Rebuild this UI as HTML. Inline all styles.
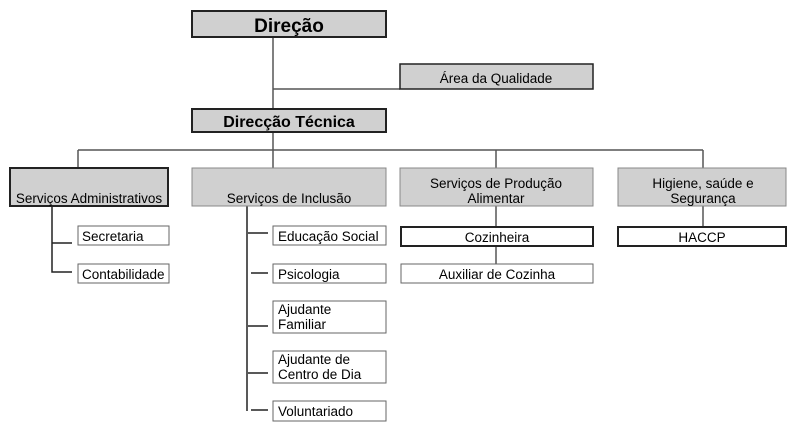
<!DOCTYPE html>
<html><head><meta charset="utf-8"><style>body{margin:0;background:#fff}svg{display:block}</style></head><body>
<svg width="800" height="428" viewBox="0 0 800 428" font-family="Liberation Sans, Arial, sans-serif">
<g stroke="#555" stroke-width="1.5" fill="none">
<line x1="273" y1="37" x2="273" y2="109"/>
<line x1="273" y1="89" x2="400" y2="89"/>
<line x1="273" y1="132" x2="273" y2="168"/>
<line x1="78" y1="150" x2="703" y2="150"/>
<line x1="78" y1="150" x2="78" y2="168"/>
<line x1="496" y1="150" x2="496" y2="168"/>
<line x1="703" y1="150" x2="703" y2="168"/>
<line x1="496" y1="206" x2="496" y2="264"/>
<line x1="703" y1="206" x2="703" y2="227"/>
</g>
<g stroke="#222" stroke-width="1.5" fill="none">
<polyline points="52,206 52,272 72,272"/>
<line x1="52" y1="243" x2="72" y2="243"/>
<line x1="247" y1="206" x2="247" y2="411"/>
<line x1="248" y1="233" x2="268" y2="233"/>
<line x1="251" y1="273" x2="268" y2="273"/>
<line x1="248" y1="326" x2="268" y2="326"/>
<line x1="248" y1="373" x2="268" y2="373"/>
<line x1="251" y1="410" x2="268" y2="410"/>
</g>
<g fill="#d0d0d0">
<rect x="192" y="11" width="194" height="26" stroke="#222" stroke-width="2"/>
<rect x="400" y="64" width="193" height="25" stroke="#222" stroke-width="1.5"/>
<rect x="192" y="109" width="194" height="23" stroke="#222" stroke-width="2"/>
<rect x="10" y="168" width="158" height="38" stroke="#222" stroke-width="2"/>
<rect x="192" y="168" width="194" height="38" stroke="#888" stroke-width="1"/>
<rect x="400" y="168" width="193" height="38" stroke="#888" stroke-width="1"/>
<rect x="618" y="168" width="168" height="38" stroke="#888" stroke-width="1"/>
</g>
<g fill="#fff" stroke="#222">
<rect x="401" y="227" width="192" height="19" stroke-width="2"/>
<rect x="618" y="227" width="168" height="19" stroke-width="2"/>
<rect x="401" y="264" width="192" height="19" stroke-width="1" stroke="#666"/>
<rect x="78" y="226" width="91" height="19" stroke-width="1" stroke="#666"/>
<rect x="78" y="264" width="91" height="19" stroke-width="1" stroke="#666"/>
<rect x="273" y="226" width="113" height="19" stroke-width="1" stroke="#666"/>
<rect x="273" y="264" width="113" height="19" stroke-width="1" stroke="#666"/>
<rect x="273" y="301" width="113" height="32" stroke-width="1" stroke="#666"/>
<rect x="273" y="351" width="113" height="32" stroke-width="1" stroke="#666"/>
<rect x="273" y="401" width="113" height="20" stroke-width="1" stroke="#666"/>
</g>
<g fill="#000" font-size="13.5" text-anchor="middle">
<text x="289" y="32" font-size="19" font-weight="bold">Direção</text>
<text x="496" y="83">Área da Qualidade</text>
<text x="289" y="127" font-size="16" font-weight="bold">Direcção Técnica</text>
<text x="89" y="203">Serviços Administrativos</text>
<text x="289" y="203">Serviços de Inclusão</text>
<text x="496" y="188">Serviços de Produção</text>
<text x="496" y="203">Alimentar</text>
<text x="703" y="188">Higiene, saúde e</text>
<text x="703" y="203">Segurança</text>
<text x="497" y="242">Cozinheira</text>
<text x="702" y="242">HACCP</text>
<text x="497" y="279">Auxiliar de Cozinha</text>
</g>
<g fill="#000" font-size="13.5">
<text x="82" y="241">Secretaria</text>
<text x="82" y="279">Contabilidade</text>
<text x="278" y="241">Educação Social</text>
<text x="278" y="279">Psicologia</text>
<text x="278" y="314">Ajudante</text>
<text x="278" y="329">Familiar</text>
<text x="278" y="364">Ajudante de</text>
<text x="278" y="379">Centro de Dia</text>
<text x="278" y="416">Voluntariado</text>
</g>
</svg>
</body></html>
